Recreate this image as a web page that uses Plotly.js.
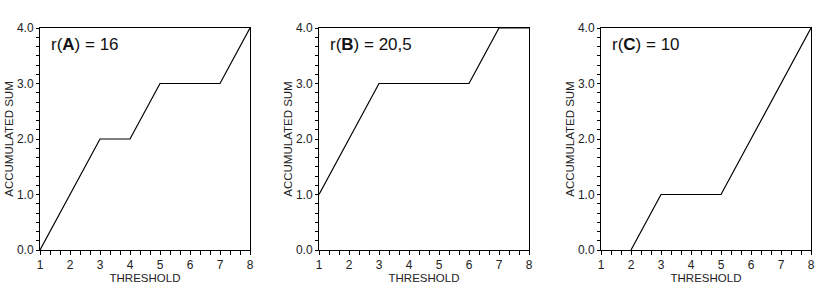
<!DOCTYPE html>
<html><head><meta charset="utf-8">
<script src="https://cdn.plot.ly/plotly-3.0.1.min.js"></script>
<style>html,body{margin:0;padding:0;background:#fff}#chart{width:830px;height:292px}</style>
</head><body><div id="chart"></div>
<script>
const thresholds = [1, 2, 3, 4, 5, 6, 7, 8];
const sumA = [0, 1, 2, 2, 3, 3, 3, 4];
const sumB = [1, 2, 3, 3, 3, 3, 4, 4];
const sumC = [null, 0, 1, 1, 1, 2, 3, 4];
const panelLabels = ['A', 'B', 'C'];
const panelR = ['16', '20,5', '10'];
const xTickLabels = ['1', '2', '3', '4', '5', '6', '7', '8'];
const yTickLabels = ['0.0', '1.0', '2.0', '3.0', '4.0'];

const series = [sumA, sumB, sumC];
const xDomains = [[40/830, 250/830], [319/830, 529/830], [601/830, 811/830]];
const yDomain = [1 - 250/292, 1 - 28/292];
const FONT = 'Liberation Sans, Arial, sans-serif';

// tick positions including minor subdivisions (labels only on whole units)
function subTicks(labels, start, sub) {
  const vals = [], text = [];
  labels.forEach((lab, k) => {
    vals.push(start + k); text.push(lab);
    if (k < labels.length - 1) for (let j = 1; j < sub; j++) { vals.push(start + k + j / sub); text.push(''); }
  });
  return {vals, text};
}
const xt = subTicks(xTickLabels, 1, 3);
const yt = subTicks(yTickLabels, 0, 6);

const data = series.map((s, i) => ({
  x: thresholds, y: s, type: 'scatter', mode: 'lines',
  xaxis: i === 0 ? 'x' : 'x' + (i + 1),
  yaxis: i === 0 ? 'y' : 'y' + (i + 1),
  line: {color: '#000', width: 1.2}, hoverinfo: 'skip', connectgaps: false
}));

const layout = {
  width: 830, height: 292,
  margin: {l: 0, r: 0, t: 0, b: 0},
  paper_bgcolor: '#fff', plot_bgcolor: '#fff',
  showlegend: false,
  font: {family: FONT, color: '#222', size: 12},
  annotations: []
};

for (let i = 0; i < 3; i++) {
  const sx = i === 0 ? '' : String(i + 1);
  layout['xaxis' + sx] = {
    domain: xDomains[i], anchor: 'y' + sx, range: [1, 8],
    tickmode: 'array', tickvals: xt.vals, ticktext: xt.text,
    ticks: 'outside', ticklen: 4, tickwidth: 1, tickcolor: '#000',
    showline: true, linecolor: '#000', linewidth: 1, mirror: true,
    showgrid: false, zeroline: false,
    tickfont: {family: FONT, size: 12, color: '#222'},
    title: {text: 'THRESHOLD', font: {family: FONT, size: 11.5, color: '#222'}, standoff: 1},
    automargin: false,
    fixedrange: true
  };
  layout['yaxis' + sx] = {
    domain: yDomain, anchor: 'x' + sx, range: [0, 4],
    tickmode: 'array', tickvals: yt.vals, ticktext: yt.text,
    ticks: 'outside', ticklen: 3, tickwidth: 1, tickcolor: '#000',
    showline: true, linecolor: '#000', linewidth: 1, mirror: true,
    showgrid: false, zeroline: false,
    tickfont: {family: FONT, size: 12, color: '#222'},
    title: {text: 'ACCUMULATED SUM', font: {family: FONT, size: 11.5, color: '#222'}, standoff: 0},
    automargin: false,
    fixedrange: true
  };
  layout.annotations.push({
    xref: 'x' + sx + ' domain', yref: 'y' + sx + ' domain',
    x: 0.045, y: 0.925, xanchor: 'left', yanchor: 'middle', showarrow: false,
    text: 'r(<b>' + panelLabels[i] + '</b>) = ' + panelR[i],
    font: {family: FONT, size: 17, color: '#111'}
  });
}

Plotly.newPlot('chart', data, layout, {displayModeBar: false, staticPlot: true});
</script></body></html>
